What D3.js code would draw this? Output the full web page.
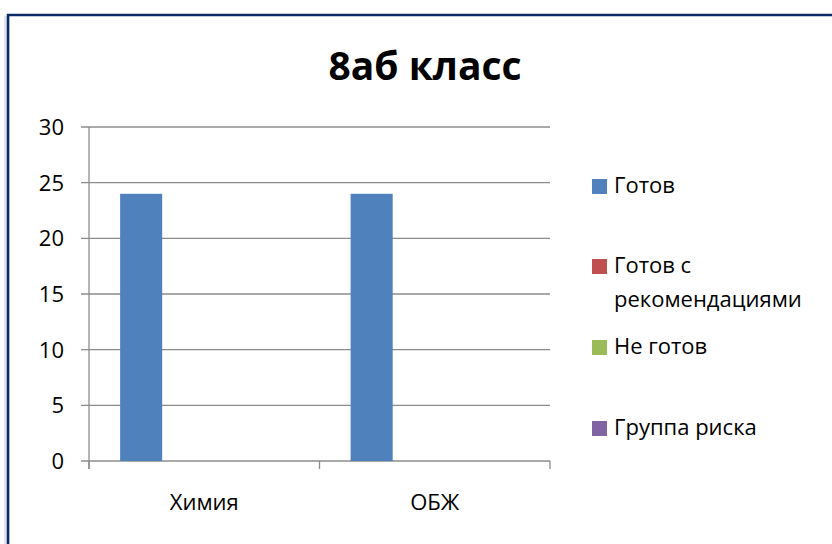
<!DOCTYPE html>
<html>
<head>
<meta charset="utf-8">
<script src="https://cdn.jsdelivr.net/npm/d3@7"></script>
<style>
  body { margin: 0; background: #fff; }
  text { font-family: "Open Sans", sans-serif; fill: #000; }
</style>
</head>
<body>
<script>
var width = 832,
    height = 544;

var title = "8аб класс";
var categories = ["Химия", "ОБЖ"];
var seriesNames = ["Готов", "Готов с рекомендациями", "Не готов", "Группа риска"];
var seriesColors = ["#4f81bd", "#c0504d", "#9bbb59", "#8064a2"];
var gotov = [24, 24];
var gotovRec = [0, 0];
var neGotov = [0, 0];
var riska = [0, 0];
var yTicks = [0, 5, 10, 15, 20, 25, 30];

var series = [gotov, gotovRec, neGotov, riska];

var svg = d3.select("body").append("svg")
    .attr("width", width)
    .attr("height", height);

// chart frame (cropped on right and bottom)
svg.append("rect")
    .attr("x", 4).attr("y", 16)
    .attr("width", 6).attr("height", height)
    .attr("fill", "#dfe3ee");
svg.append("path")
    .attr("d", "M8," + height + "V15H" + width)
    .attr("fill", "none")
    .attr("stroke", "#0c2a66")
    .attr("stroke-width", 2.5);

var plot = {left: 89, right: 550, top: 127, bottom: 461};

var x = d3.scaleBand()
    .domain(categories)
    .range([plot.left, plot.right]);

var xs = d3.scaleBand()
    .domain(d3.range(series.length))
    .range([0, x.bandwidth()])
    .paddingOuter(0.74);

var y = d3.scaleLinear()
    .domain([0, 30])
    .range([plot.bottom, plot.top]);

svg.append("text")
    .attr("x", 425).attr("y", 80)
    .attr("text-anchor", "middle")
    .style("font-size", "39px")
    .style("font-weight", "bold")
    .text(title);

// gridlines
svg.selectAll(".grid")
    .data(yTicks)
    .enter()
    .append("line")
    .attr("x1", plot.left - 8).attr("x2", plot.right)
    .attr("y1", d => y(d)).attr("y2", d => y(d))
    .attr("stroke", "#8c8c8c")
    .attr("stroke-width", 1.3);

svg.selectAll(".ylab")
    .data(yTicks)
    .enter()
    .append("text")
    .attr("x", 64)
    .attr("y", d => y(d) + 8)
    .attr("text-anchor", "end")
    .style("font-size", "22px")
    .text(d => d);

// bars
categories.forEach(function(c, ci) {
    series.forEach(function(s, si) {
        svg.append("rect")
            .attr("x", x(c) + xs(si))
            .attr("y", y(s[ci]))
            .attr("width", xs.bandwidth())
            .attr("height", y(0) - y(s[ci]))
            .attr("fill", seriesColors[si]);
    });
});

// axes lines
svg.append("line")
    .attr("x1", plot.left).attr("x2", plot.left)
    .attr("y1", plot.top).attr("y2", plot.bottom + 8)
    .attr("stroke", "#8c8c8c").attr("stroke-width", 1.3);

var xTickPos = categories.map(c => x(c)).concat([plot.right]);
svg.selectAll(".xtick")
    .data(xTickPos)
    .enter()
    .append("line")
    .attr("x1", d => d).attr("x2", d => d)
    .attr("y1", plot.bottom).attr("y2", plot.bottom + 8)
    .attr("stroke", "#8c8c8c").attr("stroke-width", 1.3);

svg.selectAll(".xlab")
    .data(categories)
    .enter()
    .append("text")
    .attr("x", d => x(d) + x.bandwidth() / 2)
    .attr("y", 510)
    .attr("text-anchor", "middle")
    .style("font-size", "22px")
    .text(d => d);

// legend
var legendY = [186, 266, 347, 428];
var legend = svg.selectAll(".legend")
    .data(seriesNames)
    .enter()
    .append("g")
    .attr("transform", (d, i) => "translate(592," + legendY[i] + ")");

legend.append("rect")
    .attr("x", 0).attr("y", -7)
    .attr("width", 15).attr("height", 15)
    .attr("fill", (d, i) => seriesColors[i]);

legend.append("text")
    .attr("x", 22)
    .attr("y", 7)
    .style("font-size", "22px")
    .each(function(d) {
        var t = d3.select(this);
        if (d === "Готов с рекомендациями") {
            t.append("tspan").attr("x", 22).text("Готов с");
            t.append("tspan").attr("x", 22).attr("dy", 34).text("рекомендациями");
        } else {
            t.text(d);
        }
    });
</script>
</body>
</html>
